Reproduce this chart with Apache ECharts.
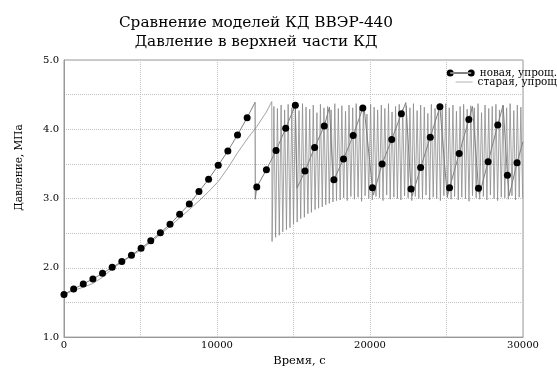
<!DOCTYPE html>
<html>
<head>
<meta charset="utf-8">
<script src="https://cdn.jsdelivr.net/npm/echarts@6/dist/echarts.min.js"></script>
<style>
  html, body { margin: 0; padding: 0; background: #fff; }
  #chart { width: 557px; height: 372px; }
</style>
</head>
<body>
<div id="chart"></div>
<script>
const FONT = 'DejaVu Serif'
const MARK_STEP = 630

const titleText = 'Сравнение моделей КД ВВЭР-440\nДавление в верхней части КД'
const newName = 'новая, упрощ.'
const oldName = 'старая, упрощ'

// labelled ticks (grid lines are every 5000 s / 0.5 MPa)
const xLabelValues = [0, 10000, 20000, 30000]
const yLabelValues = [1, 2, 3, 4, 5]

// new model: vertices of the line, markers sit on the 630 s points
const newTime = [
  0, 630, 1260, 1890, 2520, 3150, 3780, 4410, 5040, 5670,
  6300, 6930, 7560, 8190, 8820, 9450, 10080, 10710, 11340, 11970,
  12490, 12500, 12600, 13230, 13860, 14490, 15120, 15230, 15750, 16380,
  17010, 17350, 17600, 17640, 18270, 18900, 19530, 19600, 20160, 20220,
  20790, 21420, 22050, 22340, 22680, 22760, 23310, 23940, 24570, 24620,
  25050, 25200, 25830, 26460, 26700, 27090, 27150, 27720, 28350, 28700,
  28980, 29100, 29610, 30000
]
const newValue = [
  1.615, 1.693, 1.767, 1.84, 1.92, 2.007, 2.09, 2.183, 2.284, 2.39,
  2.506, 2.63, 2.773, 2.921, 3.10, 3.28, 3.479, 3.687, 3.918, 4.168,
  4.39, 2.99, 3.166, 3.416, 3.693, 4.015, 4.348, 3.15, 3.396, 3.738,
  4.047, 4.32, 3.24, 3.271, 3.572, 3.909, 4.306, 4.34, 3.156, 3.05,
  3.499, 3.853, 4.223, 4.385, 3.139, 3.04, 3.447, 3.886, 4.324, 4.35,
  3.03, 3.157, 3.651, 4.14, 4.33, 3.147, 3.06, 3.53, 4.06, 4.35,
  3.337, 3.04, 3.517, 3.82
]

// old model: smooth rise up to 13580 s
const oldRiseTime = [
  0, 630, 1260, 1890, 2520, 3150, 3780, 4410, 5040, 5670,
  6300, 6930, 7560, 8190, 8820, 9450, 10080, 10710, 11340, 11970,
  12600, 13230, 13580
]
const oldRiseValue = [
  1.61, 1.675, 1.72, 1.775, 1.865, 1.985, 2.085, 2.17, 2.265, 2.37,
  2.485, 2.6, 2.72, 2.84, 2.965, 3.1, 3.245, 3.44, 3.66, 3.86,
  4.04, 4.25, 4.40
]

// old model: fast oscillation afterwards (troughs and peaks)
const oldWaveTime = [
  13600, 13720, 13830, 13950, 14070, 14190, 14300, 14420, 14540, 14650,
  14770, 14890, 15000, 15120, 15240, 15360, 15470, 15590, 15710, 15820,
  15940, 16060, 16170, 16290, 16410, 16530, 16640, 16760, 16880, 16990,
  17110, 17230, 17340, 17460, 17580, 17700, 17810, 17930, 18050, 18160,
  18280, 18400, 18510, 18630, 18750, 18870, 18980, 19100, 19220, 19330,
  19450, 19570, 19680, 19800, 19920, 20040, 20150, 20270, 20390, 20500,
  20620, 20740, 20850, 20970, 21090, 21210, 21320, 21440, 21560, 21670,
  21790, 21910, 22020, 22140, 22260, 22380, 22490, 22610, 22730, 22840,
  22960, 23080, 23190, 23310, 23430, 23550, 23660, 23780, 23900, 24010,
  24130, 24250, 24360, 24480, 24600, 24720, 24830, 24950, 25070, 25180,
  25300, 25420, 25530, 25650, 25770, 25890, 26000, 26120, 26240, 26350,
  26470, 26590, 26700, 26820, 26940, 27060, 27170, 27290, 27410, 27520,
  27640, 27760, 27870, 27990, 28110, 28230, 28340, 28460, 28580, 28690,
  28810, 28930, 29040, 29160, 29280, 29400, 29510, 29630, 29750, 29860,
  29980
]
const oldWaveValue = [
  2.38, 4.33, 2.44, 4.30, 2.47, 4.35, 2.52, 4.28, 2.55, 4.36,
  2.58, 4.31, 2.63, 4.34, 2.66, 4.27, 2.71, 4.37, 2.73, 4.32,
  2.78, 4.29, 2.80, 4.35, 2.84, 4.24, 2.86, 4.36, 2.88, 4.31,
  2.91, 4.33, 2.93, 4.28, 2.95, 4.37, 2.97, 4.30, 2.98, 4.34,
  3.01, 4.26, 2.97, 4.35, 3.03, 4.31, 2.99, 4.37, 3.02, 4.29,
  2.96, 4.34, 3.04, 4.22, 3.00, 4.36, 2.98, 4.32, 3.03, 4.28,
  3.01, 4.35, 2.97, 4.30, 3.05, 4.37, 2.99, 4.25, 3.02, 4.33,
  3.00, 4.36, 2.98, 4.29, 3.04, 4.34, 3.01, 4.31, 2.97, 4.37,
  3.03, 4.27, 3.00, 4.35, 2.99, 4.32, 3.05, 4.23, 2.98, 4.36,
  3.02, 4.30, 3.00, 4.34, 2.97, 4.28, 3.04, 4.37, 3.01, 4.31,
  2.99, 4.35, 3.03, 4.26, 2.98, 4.33, 3.02, 4.36, 3.00, 4.29,
  2.96, 4.34, 3.04, 4.31, 3.01, 4.37, 2.99, 4.24, 3.03, 4.35,
  2.98, 4.30, 3.05, 4.33, 3.00, 4.36, 2.97, 4.28, 3.02, 4.34,
  3.01, 4.31, 2.99, 4.37, 3.04, 4.27, 2.98, 4.35, 3.02, 4.32,
  3.00
]

const newData = newTime.map((t, i) => [t, newValue[i]])
const oldData = oldRiseTime.map((t, i) => [t, oldRiseValue[i]])
  .concat(oldWaveTime.map((t, i) => [t, oldWaveValue[i]]))

const labelStyle = { fontFamily: FONT, fontSize: 10, color: '#000' }

const chart = echarts.init(document.getElementById('chart'), null, { renderer: 'canvas' })

chart.setOption({
  animation: false,
  backgroundColor: '#fff',
  title: {
    text: titleText,
    left: 256,
    top: 14,
    padding: 0,
    textAlign: 'center',
    textStyle: { fontFamily: FONT, fontSize: 15.3, fontWeight: 'normal', lineHeight: 19, color: '#000' }
  },
  legend: [
    {
      data: [{ name: newName, icon: 'path://M0,3.5A3.5,3.5 0 1,0 7,3.5A3.5,3.5 0 1,0 0,3.5Z M21,3.5A3.5,3.5 0 1,0 28,3.5A3.5,3.5 0 1,0 21,3.5Z M3.5,3L24.5,3L24.5,4L3.5,4Z' }],
      right: 0,
      top: 68,
      padding: 0,
      itemWidth: 28,
      itemHeight: 7,
      itemStyle: { borderWidth: 0 },
      textStyle: { ...labelStyle, fontSize: 10.4 },
      selectedMode: false
    },
    {
      data: [{ name: oldName, icon: 'path://M0,0L17,0L17,1L0,1Z' }],
      right: 0,
      top: 77,
      padding: 0,
      itemWidth: 17,
      itemHeight: 1,
      itemStyle: { borderWidth: 0 },
      textStyle: { ...labelStyle, fontSize: 10.4 },
      selectedMode: false
    }
  ],
  grid: {
    left: 64, right: 34, top: 60, bottom: 23,
    show: true, borderColor: '#999', borderWidth: 1
  },
  xAxis: {
    type: 'value',
    min: 0,
    max: 30000,
    interval: 5000,
    name: 'Время, с',
    nameLocation: 'middle',
    nameGap: 12,
    nameTextStyle: { fontFamily: FONT, fontSize: 11.5, color: '#000', padding: [0, 0, 0, 12] },
    axisLine: { lineStyle: { color: '#999' } },
    axisTick: { show: false },
    axisLabel: {
      ...labelStyle,
      margin: 3,
      formatter: v => (xLabelValues.includes(v) ? String(v) : '')
    },
    splitLine: { lineStyle: { color: '#c4c4c4', type: 'dotted' } }
  },
  yAxis: {
    type: 'value',
    min: 1,
    max: 5,
    interval: 0.5,
    name: 'Давление, МПа',
    nameLocation: 'middle',
    nameGap: 39,
    nameTextStyle: { fontFamily: FONT, fontSize: 10.5, color: '#000', padding: [0, 0, 0, 62] },
    axisLine: { lineStyle: { color: '#999' } },
    axisTick: { show: false },
    axisLabel: {
      ...labelStyle,
      margin: 5,
      formatter: v => (yLabelValues.includes(v) ? v.toFixed(1) : '')
    },
    splitLine: { lineStyle: { color: '#c4c4c4', type: 'dotted' } }
  },
  series: [
    {
      name: oldName,
      type: 'line',
      data: oldData,
      showSymbol: false,
      lineStyle: { color: '#8c8c8c', width: 0.8 },
      itemStyle: { color: '#b0b0b0' },
      z: 2
    },
    {
      name: newName,
      type: 'line',
      data: newData,
      symbol: v => (v[0] % MARK_STEP === 0 ? 'circle' : 'none'),
      symbolSize: 7,
      lineStyle: { color: '#808080', width: 1 },
      itemStyle: { color: '#000', borderWidth: 0 },
      z: 3
    }
  ]
})

window.addEventListener('resize', () => chart.resize())
</script>
</body>
</html>
